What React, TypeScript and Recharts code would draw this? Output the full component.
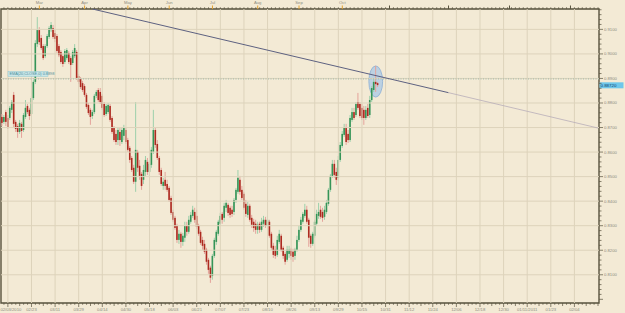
/**
 * EUR/GBP daily candles 2010 with a falling trend line (Recharts)
 */
import React from 'react';
import { ComposedChart, Bar, XAxis, YAxis, ReferenceLine, ReferenceArea } from 'recharts';

// daily OHLC, Feb 2010 -> Oct 2010
const opens = [
  0.8743, 0.8723, 0.8763, 0.8739, 0.8739, 0.8772, 0.8833, 0.8723, 0.8706, 0.8682,
  0.8715, 0.8690, 0.8743, 0.8788, 0.8772, 0.8755, 0.8820, 0.8886, 0.9040, 0.9097,
  0.9065, 0.9032, 0.8991, 0.9032, 0.9069, 0.9097, 0.9105, 0.9085, 0.9073, 0.9032,
  0.9008, 0.8991, 0.8967, 0.8983, 0.9004, 0.8983, 0.8963, 0.8991, 0.9008, 0.8910,
  0.8898, 0.8881, 0.8869, 0.8833, 0.8792, 0.8772, 0.8747, 0.8763, 0.8829, 0.8853,
  0.8845, 0.8829, 0.8796, 0.8755, 0.8763, 0.8788, 0.8739, 0.8698, 0.8674, 0.8649,
  0.8682, 0.8641, 0.8666, 0.8690, 0.8649, 0.8617, 0.8576, 0.8536, 0.8479, 0.8601,
  0.8544, 0.8511, 0.8487, 0.8519, 0.8560, 0.8519, 0.8548, 0.8601, 0.8690, 0.8633,
  0.8576, 0.8527, 0.8462, 0.8487, 0.8470, 0.8454, 0.8413, 0.8356, 0.8332, 0.8299,
  0.8242, 0.8267, 0.8234, 0.8251, 0.8299, 0.8275, 0.8316, 0.8340, 0.8356, 0.8340,
  0.8299, 0.8275, 0.8242, 0.8226, 0.8202, 0.8161, 0.8129, 0.8096, 0.8177, 0.8234,
  0.8267, 0.8308, 0.8348, 0.8332, 0.8373, 0.8385, 0.8373, 0.8365, 0.8356, 0.8405,
  0.8438, 0.8487, 0.8446, 0.8430, 0.8389, 0.8344, 0.8381, 0.8332, 0.8316, 0.8308,
  0.8283, 0.8308, 0.8283, 0.8308, 0.8324, 0.8299, 0.8316, 0.8267, 0.8218, 0.8202,
  0.8181, 0.8234, 0.8259, 0.8210, 0.8185, 0.8161, 0.8185, 0.8202, 0.8194, 0.8177,
  0.8202, 0.8242, 0.8283, 0.8316, 0.8340, 0.8365, 0.8324, 0.8259, 0.8226, 0.8259,
  0.8308, 0.8340, 0.8365, 0.8356, 0.8336, 0.8356, 0.8389, 0.8446, 0.8503, 0.8552,
  0.8519, 0.8495, 0.8568, 0.8625, 0.8670, 0.8702, 0.8674, 0.8649, 0.8731, 0.8763,
  0.8751, 0.8804, 0.8796, 0.8780, 0.8772, 0.8739, 0.8780, 0.8751, 0.8812, 0.8853,
  0.8886, 0.8881
];
const highs = [
  0.8755, 0.8751, 0.8772, 0.8751, 0.8788, 0.8812, 0.8845, 0.8731, 0.8715, 0.8731,
  0.8723, 0.8759, 0.8812, 0.8796, 0.8780, 0.8829, 0.8894, 0.9056, 0.9150, 0.9109,
  0.9077, 0.9040, 0.9040, 0.9081, 0.9113, 0.9130, 0.9118, 0.9097, 0.9081, 0.9040,
  0.9016, 0.8999, 0.9020, 0.9024, 0.9012, 0.8991, 0.9016, 0.9040, 0.9016, 0.8918,
  0.8906, 0.8890, 0.8877, 0.8841, 0.8800, 0.8780, 0.8772, 0.8837, 0.8853, 0.8861,
  0.8861, 0.8837, 0.8804, 0.8796, 0.8800, 0.8796, 0.8747, 0.8706, 0.8690, 0.8698,
  0.8698, 0.8702, 0.8711, 0.8698, 0.8658, 0.8625, 0.8584, 0.8548, 0.8804, 0.8609,
  0.8568, 0.8519, 0.8548, 0.8584, 0.8576, 0.8568, 0.8621, 0.8772, 0.8698, 0.8649,
  0.8584, 0.8536, 0.8495, 0.8519, 0.8487, 0.8462, 0.8422, 0.8365, 0.8340, 0.8308,
  0.8283, 0.8275, 0.8271, 0.8316, 0.8316, 0.8340, 0.8356, 0.8381, 0.8373, 0.8365,
  0.8308, 0.8283, 0.8255, 0.8242, 0.8210, 0.8169, 0.8137, 0.8185, 0.8251, 0.8283,
  0.8324, 0.8352, 0.8356, 0.8393, 0.8405, 0.8393, 0.8381, 0.8381, 0.8413, 0.8454,
  0.8527, 0.8503, 0.8462, 0.8438, 0.8405, 0.8397, 0.8389, 0.8344, 0.8328, 0.8324,
  0.8316, 0.8316, 0.8332, 0.8340, 0.8336, 0.8340, 0.8324, 0.8275, 0.8230, 0.8218,
  0.8259, 0.8283, 0.8267, 0.8218, 0.8194, 0.8218, 0.8218, 0.8210, 0.8206, 0.8210,
  0.8259, 0.8299, 0.8336, 0.8356, 0.8389, 0.8381, 0.8332, 0.8267, 0.8275, 0.8324,
  0.8365, 0.8393, 0.8381, 0.8373, 0.8381, 0.8405, 0.8454, 0.8511, 0.8568, 0.8568,
  0.8536, 0.8584, 0.8641, 0.8686, 0.8715, 0.8715, 0.8690, 0.8751, 0.8780, 0.8780,
  0.8804, 0.8841, 0.8804, 0.8796, 0.8788, 0.8788, 0.8796, 0.8829, 0.8869, 0.8902,
  0.8951, 0.8886
];
const lows = [
  0.8706, 0.8715, 0.8706, 0.8694, 0.8731, 0.8759, 0.8702, 0.8682, 0.8658, 0.8674,
  0.8658, 0.8682, 0.8735, 0.8755, 0.8731, 0.8747, 0.8812, 0.8877, 0.9028, 0.9036,
  0.9016, 0.8975, 0.8983, 0.9024, 0.9061, 0.9089, 0.9061, 0.9048, 0.9004, 0.8987,
  0.8959, 0.8947, 0.8959, 0.8975, 0.8959, 0.8886, 0.8955, 0.8983, 0.8894, 0.8877,
  0.8857, 0.8845, 0.8825, 0.8776, 0.8751, 0.8711, 0.8735, 0.8755, 0.8820, 0.8804,
  0.8796, 0.8772, 0.8743, 0.8747, 0.8755, 0.8723, 0.8674, 0.8641, 0.8629, 0.8629,
  0.8625, 0.8633, 0.8649, 0.8633, 0.8601, 0.8556, 0.8519, 0.8470, 0.8438, 0.8519,
  0.8487, 0.8446, 0.8470, 0.8503, 0.8507, 0.8503, 0.8536, 0.8592, 0.8617, 0.8568,
  0.8507, 0.8462, 0.8446, 0.8446, 0.8438, 0.8397, 0.8344, 0.8316, 0.8283, 0.8230,
  0.8226, 0.8210, 0.8218, 0.8234, 0.8259, 0.8267, 0.8308, 0.8332, 0.8312, 0.8287,
  0.8259, 0.8222, 0.8202, 0.8185, 0.8141, 0.8104, 0.8067, 0.8080, 0.8169, 0.8222,
  0.8259, 0.8299, 0.8308, 0.8316, 0.8356, 0.8340, 0.8332, 0.8336, 0.8344, 0.8393,
  0.8430, 0.8426, 0.8405, 0.8365, 0.8336, 0.8332, 0.8316, 0.8291, 0.8275, 0.8267,
  0.8267, 0.8271, 0.8275, 0.8295, 0.8291, 0.8291, 0.8251, 0.8202, 0.8169, 0.8165,
  0.8173, 0.8226, 0.8194, 0.8165, 0.8141, 0.8153, 0.8169, 0.8161, 0.8153, 0.8161,
  0.8194, 0.8234, 0.8275, 0.8308, 0.8332, 0.8308, 0.8214, 0.8210, 0.8218, 0.8251,
  0.8299, 0.8328, 0.8328, 0.8316, 0.8324, 0.8348, 0.8381, 0.8438, 0.8495, 0.8495,
  0.8466, 0.8483, 0.8560, 0.8617, 0.8662, 0.8629, 0.8637, 0.8641, 0.8723, 0.8731,
  0.8743, 0.8772, 0.8739, 0.8731, 0.8711, 0.8731, 0.8739, 0.8739, 0.8804, 0.8845,
  0.8845, 0.8865
];
const closes = [
  0.8719, 0.8743, 0.8723, 0.8702, 0.8780, 0.8804, 0.8715, 0.8694, 0.8682, 0.8719,
  0.8686, 0.8751, 0.8780, 0.8763, 0.8747, 0.8820, 0.8886, 0.9044, 0.9097, 0.9048,
  0.9024, 0.8983, 0.9032, 0.9073, 0.9105, 0.9118, 0.9069, 0.9061, 0.9012, 0.8995,
  0.8967, 0.8959, 0.9012, 0.9016, 0.8967, 0.8955, 0.9008, 0.9024, 0.8902, 0.8886,
  0.8865, 0.8853, 0.8833, 0.8784, 0.8759, 0.8743, 0.8763, 0.8829, 0.8845, 0.8812,
  0.8804, 0.8780, 0.8751, 0.8788, 0.8792, 0.8731, 0.8682, 0.8649, 0.8641, 0.8690,
  0.8649, 0.8690, 0.8698, 0.8641, 0.8609, 0.8568, 0.8527, 0.8479, 0.8609, 0.8536,
  0.8503, 0.8462, 0.8527, 0.8568, 0.8519, 0.8552, 0.8609, 0.8690, 0.8629, 0.8576,
  0.8519, 0.8470, 0.8479, 0.8462, 0.8446, 0.8405, 0.8352, 0.8324, 0.8291, 0.8242,
  0.8267, 0.8234, 0.8259, 0.8299, 0.8275, 0.8324, 0.8344, 0.8365, 0.8324, 0.8295,
  0.8267, 0.8230, 0.8218, 0.8194, 0.8153, 0.8120, 0.8088, 0.8177, 0.8242, 0.8275,
  0.8316, 0.8340, 0.8324, 0.8381, 0.8393, 0.8352, 0.8344, 0.8348, 0.8405, 0.8446,
  0.8495, 0.8438, 0.8413, 0.8373, 0.8348, 0.8381, 0.8324, 0.8304, 0.8291, 0.8283,
  0.8304, 0.8283, 0.8316, 0.8324, 0.8299, 0.8324, 0.8259, 0.8210, 0.8181, 0.8177,
  0.8242, 0.8267, 0.8202, 0.8177, 0.8153, 0.8202, 0.8202, 0.8177, 0.8173, 0.8202,
  0.8242, 0.8283, 0.8324, 0.8348, 0.8365, 0.8316, 0.8251, 0.8226, 0.8267, 0.8316,
  0.8348, 0.8356, 0.8336, 0.8332, 0.8365, 0.8393, 0.8446, 0.8503, 0.8552, 0.8507,
  0.8487, 0.8568, 0.8629, 0.8674, 0.8702, 0.8641, 0.8649, 0.8739, 0.8763, 0.8739,
  0.8796, 0.8780, 0.8747, 0.8739, 0.8739, 0.8772, 0.8747, 0.8812, 0.8861, 0.8886,
  0.8877, 0.8873
];

// x axis: one slot per trading day, chart runs on into empty future slots
const SLOTS = 304;
const dateLabels = [
  '02/03/2010', '02/23', '03/11', '03/29', '04/14', '04/30', '05/18', '06/03', '06/21',
  '07/07', '07/23', '08/10', '08/26', '09/13', '09/29', '10/15', '10/31', '11/12',
  '11/24', '12/06', '12/18', '12/30', '01/11/2011', '01/23', '02/04'
];
const dateLabelSlots = [3, 15, 27, 39, 51, 63, 75, 87, 99, 111, 123, 135, 147, 159, 171, 183, 195, 207, 219, 231, 243, 255, 267, 279, 291];
const monthLabels = ['Mar', 'Apr', 'May', 'Jun', 'Jul', 'Aug', 'Sep', 'Oct', '', '', '', ''];
const monthSlots = [19, 42, 64, 85, 107, 130, 151, 173, 197, 227, 258, 289];

// price axis
const PRICE_MIN = 0.7985;
const PRICE_MAX = 0.9183;
const gridPrices = [0.81, 0.82, 0.83, 0.84, 0.85, 0.86, 0.87, 0.88, 0.89, 0.9, 0.91];
const lastPrice = 0.8872;
const lineLevel = 0.8898;

// trend line anchors (slot, price)
const trendStart = { x: 46, y: 0.9183 };
const trendMid = { x: 227, y: 0.8842 };
const trendEnd = { x: 303, y: 0.8698 };

const BG = '#f3ead5';
const GRID = '#ddd3bb';
const FRAME = '#57523d';
const TEXT = '#8d8a80';
const FONT = 'Liberation Sans, Arial, sans-serif';

const data = Array.from({ length: SLOTS }, (_, i) =>
  i < opens.length
    ? { idx: i, o: opens[i], h: highs[i], l: lows[i], c: closes[i], range: [lows[i], highs[i]] }
    : { idx: i, range: null }
);

const bottomTicks = Array.from({ length: SLOTS / 2 }, (_, k) => 2 * k + 1);
const topTicks = Array.from(
  new Set([...Array.from({ length: SLOTS / 2 }, (_, k) => 2 * k + 1), ...monthSlots])
).sort((a, b) => a - b);
const priceTicks = Array.from({ length: 60 }, (_, k) => +(0.8 + k * 0.002).toFixed(3));

const Candle = (props: any) => {
  const { x, y, width, height, payload } = props;
  if (!payload || payload.o == null || !isFinite(y) || !isFinite(height)) return null;
  const { o, h, l, c } = payload;
  const top = Math.min(y, y + height);
  const hh = Math.abs(height);
  const py = (v: number) => top + ((h - v) / (h - l || 1)) * hh;
  const cx = x + width / 2;
  const up = c >= o;
  const bTop = py(Math.max(o, c));
  const bBot = py(Math.min(o, c));
  return (
    <g>
      <line x1={cx} x2={cx} y1={top} y2={top + hh} stroke={up ? '#9dd0ab' : '#e4a39b'} strokeWidth={1} />
      <rect x={cx - 0.8} y={bTop} width={1.6} height={Math.max(bBot - bTop, 0.8)} fill={up ? '#359457' : '#ad2a20'} />
    </g>
  );
};

const DateTick = ({ x, y, payload }: any) => {
  const idx = payload.value;
  const k = dateLabelSlots.indexOf(idx);
  const len = k >= 0 ? 4 : (idx - 3) % 6 === 0 ? 3 : 1.8;
  return (
    <g>
      <line x1={x} x2={x} y1={y} y2={y + len} stroke={FRAME} strokeWidth={0.7} />
      {k >= 0 && (
        <text x={k === 0 ? x - 7.5 : x} y={y + 7.6} fontSize={4.2} fill={TEXT} fontFamily={FONT}
          textAnchor={k === 0 ? 'start' : 'middle'}>
          {dateLabels[k]}
        </text>
      )}
    </g>
  );
};

const MonthTick = ({ x, y, payload }: any) => {
  const idx = payload.value;
  const k = monthSlots.indexOf(idx);
  if (k < 0) {
    return <line x1={x} x2={x} y1={y} y2={y - 1.8} stroke={FRAME} strokeWidth={0.7} />;
  }
  return (
    <g>
      <line x1={x} x2={x} y1={y} y2={y - 3.5} stroke={monthLabels[k] ? '#e0a030' : FRAME} strokeWidth={1} />
      {monthLabels[k] && (
        <text x={x} y={y - 5} fontSize={4.2} fill={TEXT} fontFamily={FONT} textAnchor="middle">
          {monthLabels[k]}
        </text>
      )}
    </g>
  );
};

const PriceTick = ({ x, y, payload }: any) => {
  const v = payload.value;
  const major = Math.abs(v * 100 - Math.round(v * 100)) < 1e-6;
  const labelled = major && v > 0.805;
  return (
    <g>
      <line x1={x} x2={x + (major ? 4 : 2.5)} y1={y} y2={y} stroke={FRAME} strokeWidth={0.7} />
      {labelled && (
        <text x={x + 5} y={y + 1.5} fontSize={4.2} fill={TEXT} fontFamily={FONT}>
          {v.toFixed(4)}
        </text>
      )}
    </g>
  );
};

const PriceTag = (props: any) => {
  const { viewBox } = props;
  if (!viewBox) return null;
  const x = viewBox.x + viewBox.width + 0.5;
  const y = viewBox.y;
  return (
    <g>
      <rect x={x} y={y - 3} width={24} height={6} fill="#6fc7ea" />
      <text x={x + 1} y={y + 1.6} fontSize={4.4} fill="#10406a" fontFamily={FONT}>
        {lastPrice.toFixed(5)}
      </text>
    </g>
  );
};

const LevelTag = (props: any) => {
  const { viewBox } = props;
  if (!viewBox) return null;
  const x = viewBox.x + 7;
  const y = viewBox.y;
  return (
    <g>
      <rect x={x} y={y - 7.5} width={40} height={5} fill="#c9e6e8" stroke="#8fc8cf" strokeWidth={0.5} />
      <text x={x + 1.5} y={y - 3.6} fontSize={3.8} fill="#4c8e9a" fontFamily={FONT}>
        EMA(20,CLOSE,0) 0.8898
      </text>
    </g>
  );
};

const Ellipse = (props: any) => {
  const { x, y, width, height } = props;
  return (
    <ellipse cx={x + width / 2} cy={y + height / 2} rx={width / 2} ry={height / 2}
      fill="#a9c8e6" fillOpacity={0.75} stroke="#8aaed6" strokeWidth={0.8} />
  );
};

export default function App() {
  return (
    <div style={{ position: 'absolute', left: 0, top: 0, width: 625, height: 313, background: BG }}>
      <ComposedChart
        width={625}
        height={313}
        data={data}
        margin={{ top: 0, right: 0, bottom: 0, left: 1 }}
        barCategoryGap={0}
      >
        <XAxis dataKey="idx" type="category" height={10} ticks={bottomTicks} interval={0}
          tickSize={0} tickMargin={0} axisLine={false} tickLine={false} tick={<DateTick />} />
        <XAxis xAxisId="top" dataKey="idx" type="category" orientation="top" height={9}
          ticks={topTicks} interval={0} tickSize={0} tickMargin={0} axisLine={false}
          tickLine={false} tick={<MonthTick />} />
        <YAxis orientation="right" type="number" domain={[PRICE_MIN, PRICE_MAX]} width={26}
          ticks={priceTicks} interval={0} tickSize={0} tickMargin={0} axisLine={false}
          tickLine={false} tick={<PriceTick />} allowDataOverflow />

        {gridPrices.map(p => (
          <ReferenceLine key={'h' + p} y={p} stroke={GRID} strokeWidth={1} />
        ))}
        {dateLabelSlots.map(s => (
          <ReferenceLine key={'v' + s} x={s} stroke={GRID} strokeWidth={1} />
        ))}

        <ReferenceLine y={lineLevel} stroke="#9fbcae" strokeDasharray="1 1.5" strokeWidth={1}
          label={<LevelTag />} />

        <Bar dataKey="range" barSize={2} shape={<Candle />} isAnimationActive={false} />

        <ReferenceArea x1={187} x2={193} y1={0.8824} y2={0.8951} shape={<Ellipse />} ifOverflow="visible" />

        <ReferenceLine segment={[trendStart, trendMid]} stroke="#5d6180" strokeWidth={1} ifOverflow="visible" />
        <ReferenceLine segment={[trendMid, trendEnd]} stroke="#b7adb9" strokeWidth={0.8} ifOverflow="visible" />

        <ReferenceLine y={lastPrice} stroke="none" label={<PriceTag />} />

        <ReferenceArea y1={PRICE_MIN} y2={PRICE_MAX} fill="none" stroke={FRAME} strokeWidth={1.4}
          ifOverflow="visible" />
      </ComposedChart>
    </div>
  );
}
